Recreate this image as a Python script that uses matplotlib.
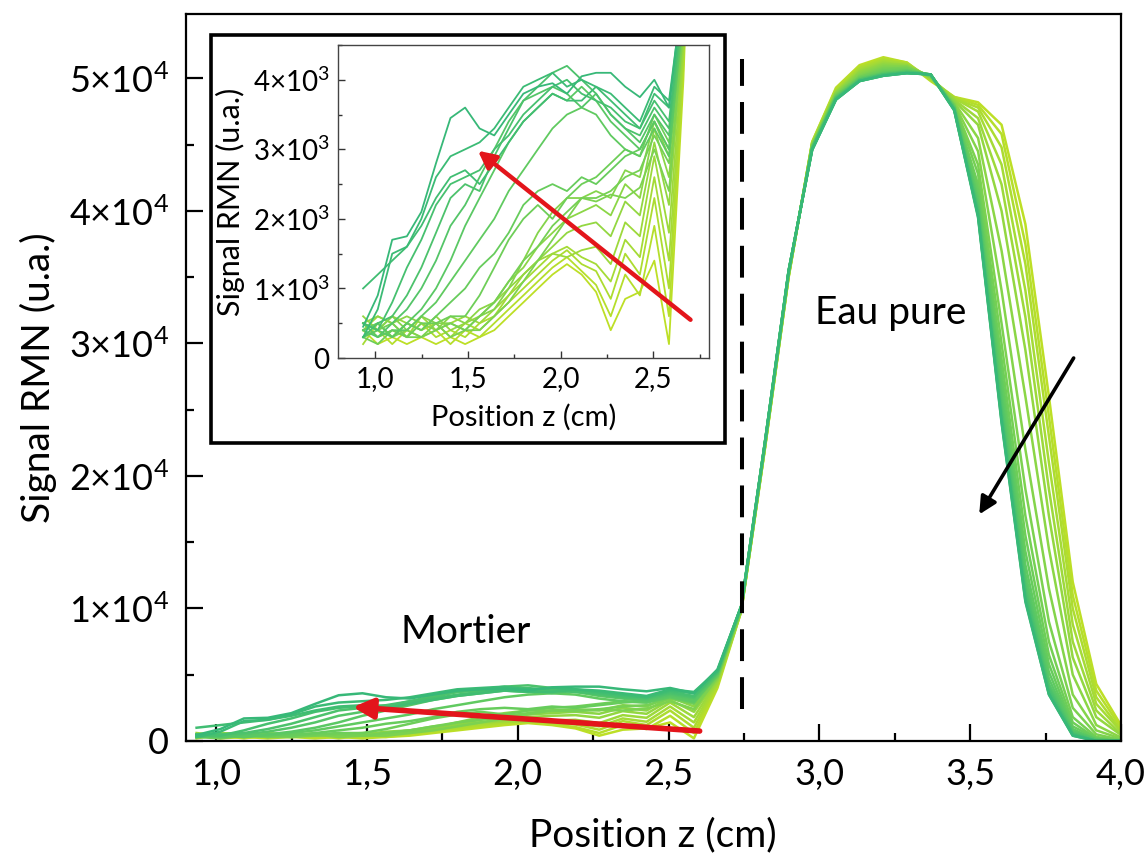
import numpy as np
import matplotlib
matplotlib.use("Agg")
import matplotlib.pyplot as plt
from matplotlib.ticker import MultipleLocator, FuncFormatter
from matplotlib.patches import Rectangle

plt.rcParams['font.family'] = ['Lato', 'DejaVu Sans']
plt.rcParams['mathtext.default'] = 'regular'

# ---------------- data ----------------
position_z = [0.935, 1.014, 1.092, 1.171, 1.249, 1.328, 1.406, 1.485, 1.563, 1.642,
              1.720, 1.799, 1.877, 1.956, 2.034, 2.113, 2.191, 2.270, 2.348, 2.427,
              2.505, 2.584, 2.662, 2.741, 2.819, 2.898, 2.976, 3.055, 3.133, 3.212,
              3.290, 3.369, 3.447, 3.526, 3.604, 3.683, 3.761, 3.840, 3.918, 3.997]

# NMR signal profiles, in units of 10^3 u.a., from earliest (t01) to latest (t20)
signal_t01 = [0.4, 0.2, 0.3, 0.2, 0.3, 0.2, 0.3, 0.2, 0.3, 0.4, 0.6, 0.8, 1.0, 1.2, 1.35, 1.2, 0.95, 0.4, 0.85, 0.95, 1.4, 0.2, 4.0,
              9.8, 22.0, 35.0, 45.2, 49.3, 51.0, 51.6, 51.2, 49.8, 48.6, 48.2, 46.5, 39.0, 26.0, 12.0, 4.3, 1.3]
signal_t02 = [0.3, 0.4, 0.2, 0.4, 0.3, 0.4, 0.2, 0.4, 0.3, 0.5, 0.7, 0.9, 1.1, 1.3, 1.45, 1.25, 1.05, 0.6, 1.2, 0.9, 1.9, 0.6, 4.2,
              9.8, 22.0, 35.0, 45.2, 49.2, 50.9, 51.5, 51.2, 49.9, 48.6, 48.0, 45.8, 37.5, 24.5, 11.0, 3.8, 1.1]
signal_t03 = [0.5, 0.3, 0.4, 0.3, 0.5, 0.3, 0.4, 0.3, 0.5, 0.6, 0.8, 1.0, 1.2, 1.4, 1.55, 1.35, 1.25, 0.85, 1.5, 1.2, 2.3, 1.0, 4.3,
              9.8, 22.1, 35.1, 45.1, 49.1, 50.8, 51.4, 51.1, 49.9, 48.5, 47.8, 44.8, 36.0, 23.0, 10.0, 3.3, 0.9]
signal_t04 = [0.2, 0.5, 0.3, 0.5, 0.4, 0.5, 0.3, 0.5, 0.4, 0.6, 0.9, 1.1, 1.3, 1.5, 1.6, 1.45, 1.35, 1.1, 1.7, 1.45, 2.6, 1.4, 4.4,
              9.9, 22.1, 35.1, 45.1, 49.0, 50.7, 51.3, 51.1, 50.0, 48.5, 47.5, 43.5, 34.0, 21.0, 8.8, 2.8, 0.8]
signal_t05 = [0.4, 0.6, 0.5, 0.3, 0.6, 0.4, 0.5, 0.6, 0.5, 0.7, 0.9, 1.2, 1.4, 1.5, 1.45, 1.55, 1.6, 1.35, 1.95, 1.75, 2.9, 1.8, 4.5,
              9.9, 22.1, 35.1, 45.0, 49.0, 50.6, 51.2, 51.0, 50.0, 48.4, 47.0, 42.0, 32.0, 19.0, 7.5, 2.3, 0.6]
signal_t06 = [0.6, 0.4, 0.6, 0.5, 0.4, 0.6, 0.4, 0.5, 0.6, 0.8, 1.0, 1.2, 1.4, 1.6, 1.8, 1.9, 1.95, 1.75, 2.25, 2.05, 3.1, 2.2, 4.6,
              9.9, 22.2, 35.2, 45.0, 48.9, 50.5, 51.1, 51.0, 50.1, 48.3, 46.5, 40.0, 29.5, 17.0, 6.3, 1.8, 0.5]
signal_t07 = [0.5, 0.6, 0.5, 0.6, 0.5, 0.4, 0.6, 0.5, 0.7, 0.8, 1.1, 1.3, 1.6, 1.8, 2.0, 2.1, 2.2, 2.05, 2.5, 2.3, 3.3, 2.6, 4.7,
              9.9, 22.2, 35.2, 45.0, 48.9, 50.4, 51.0, 50.9, 50.1, 48.2, 45.5, 37.0, 26.0, 14.5, 5.0, 1.2, 0.3]
signal_t08 = [0.5, 0.4, 0.6, 0.4, 0.6, 0.5, 0.5, 0.4, 0.6, 0.7, 1.0, 1.4, 1.8, 2.1, 2.3, 2.3, 2.4, 2.3, 2.7, 2.6, 3.4, 2.9, 4.8,
              10.0, 22.2, 35.2, 44.9, 48.8, 50.3, 50.9, 50.9, 50.1, 48.1, 44.5, 34.0, 22.0, 11.5, 3.5, 0.8, 0.2]
signal_t09 = [0.4, 0.5, 0.3, 0.4, 0.3, 0.5, 0.3, 0.4, 0.4, 0.6, 0.8, 1.1, 1.4, 1.7, 2.0, 2.3, 2.25, 2.35, 2.3, 2.45, 3.0, 2.4, 4.8,
              10.0, 22.3, 35.3, 44.9, 48.8, 50.2, 50.8, 50.8, 50.2, 48.0, 43.5, 31.5, 19.0, 9.0, 2.5, 0.5, 0.1]
signal_t10 = [0.5, 0.4, 0.5, 0.3, 0.3, 0.4, 0.5, 0.4, 0.6, 0.8, 1.1, 1.4, 1.6, 1.9, 2.1, 2.3, 2.3, 2.4, 2.6, 2.7, 3.2, 2.8, 4.9,
              10.0, 22.3, 35.3, 44.9, 48.7, 50.1, 50.7, 50.8, 50.2, 48.0, 42.8, 30.0, 17.0, 7.5, 1.8, 0.3, 0.1]
signal_t11 = [0.3, 0.2, 0.4, 0.3, 0.5, 0.5, 0.6, 0.6, 0.9, 1.3, 1.7, 2.0, 2.2, 2.0, 2.3, 2.5, 2.6, 2.8, 3.0, 2.9, 3.5, 3.1, 4.9,
              10.0, 22.3, 35.3, 44.8, 48.7, 50.1, 50.6, 50.7, 50.2, 47.9, 42.0, 28.8, 15.5, 6.5, 1.4, 0.2, 0.0]
signal_t12 = [0.4, 0.5, 0.3, 0.5, 0.4, 0.6, 0.8, 1.0, 1.3, 1.5, 1.8, 2.2, 2.4, 2.5, 2.4, 2.6, 2.5, 2.7, 2.9, 3.0, 3.4, 3.0, 5.0,
              10.1, 22.4, 35.4, 44.8, 48.6, 50.0, 50.5, 50.6, 50.2, 47.9, 41.5, 27.8, 14.3, 5.8, 1.1, 0.2, 0.0]
signal_t13 = [0.5, 0.3, 0.4, 0.4, 0.6, 0.8, 1.1, 1.4, 1.7, 2.0, 2.4, 2.7, 3.0, 3.3, 3.5, 3.6, 3.5, 3.2, 3.0, 2.9, 3.3, 2.9, 5.0,
              10.1, 22.4, 35.4, 44.8, 48.6, 50.0, 50.4, 50.6, 50.3, 47.8, 41.0, 27.0, 13.3, 5.2, 0.9, 0.1, 0.0]
signal_t14 = [0.3, 0.4, 0.3, 0.5, 0.7, 1.0, 1.4, 1.9, 2.3, 2.7, 3.1, 3.4, 3.6, 3.8, 3.7, 3.9, 3.7, 3.4, 3.2, 3.0, 3.4, 3.0, 5.1,
              10.1, 22.4, 35.4, 44.7, 48.6, 49.9, 50.4, 50.5, 50.3, 47.8, 40.7, 26.2, 12.6, 4.7, 0.8, 0.1, 0.0]
signal_t15 = [0.4, 0.3, 0.5, 0.7, 1.0, 1.4, 1.9, 2.2, 2.6, 3.0, 3.4, 3.7, 3.8, 3.9, 3.8, 3.6, 3.8, 3.5, 3.3, 3.1, 3.5, 3.2, 5.1,
              10.1, 22.4, 35.4, 44.7, 48.5, 49.9, 50.3, 50.5, 50.3, 47.7, 40.4, 25.6, 12.0, 4.3, 0.7, 0.1, 0.0]
signal_t16 = [0.3, 0.5, 0.6, 0.9, 1.3, 1.8, 2.3, 2.5, 2.4, 2.9, 3.3, 3.7, 3.9, 4.1, 4.2, 4.0, 3.8, 3.5, 3.3, 3.2, 3.6, 3.3, 5.2,
              10.2, 22.5, 35.5, 44.7, 48.5, 49.9, 50.3, 50.5, 50.3, 47.7, 40.1, 25.0, 11.5, 4.0, 0.6, 0.0, 0.0]
signal_t17 = [0.5, 0.4, 0.8, 1.3, 1.7, 2.2, 2.5, 2.6, 2.7, 3.0, 3.2, 3.5, 3.7, 3.9, 4.0, 3.8, 3.7, 3.6, 3.4, 3.3, 3.7, 3.4, 5.2,
              10.2, 22.5, 35.5, 44.7, 48.5, 49.8, 50.3, 50.4, 50.3, 47.7, 39.9, 24.6, 11.1, 3.8, 0.5, 0.0, 0.0]
signal_t18 = [1.0, 1.2, 1.4, 1.6, 1.9, 2.3, 2.6, 2.7, 2.5, 2.8, 3.1, 3.4, 3.6, 3.8, 3.7, 3.7, 3.9, 3.7, 3.5, 3.3, 3.8, 3.6, 5.3,
              10.2, 22.5, 35.5, 44.6, 48.4, 49.8, 50.2, 50.4, 50.3, 47.6, 39.7, 24.3, 10.8, 3.6, 0.5, 0.0, 0.0]
signal_t19 = [0.3, 0.7, 1.5, 1.6, 2.0, 2.6, 2.9, 3.0, 3.1, 3.3, 3.6, 3.9, 4.0, 4.1, 3.9, 4.0, 3.9, 3.8, 3.6, 3.4, 3.9, 3.7, 5.3,
              10.2, 22.5, 35.5, 44.6, 48.4, 49.8, 50.2, 50.4, 50.3, 47.6, 39.6, 24.1, 10.6, 3.5, 0.4, 0.0, 0.0]
signal_t20 = [0.45, 0.9, 1.7, 1.75, 2.1, 2.8, 3.45, 3.6, 3.3, 3.2, 3.5, 3.8, 3.9, 3.95, 3.8, 4.05, 4.1, 4.1, 3.9, 3.75, 4.0, 3.6, 5.4,
              10.2, 22.5, 35.5, 44.6, 48.4, 49.8, 50.2, 50.4, 50.3, 47.6, 39.5, 24.0, 10.5, 3.5, 0.4, 0.0, 0.0]

signals = [signal_t01, signal_t02, signal_t03, signal_t04, signal_t05,
           signal_t06, signal_t07, signal_t08, signal_t09, signal_t10,
           signal_t11, signal_t12, signal_t13, signal_t14, signal_t15,
           signal_t16, signal_t17, signal_t18, signal_t19, signal_t20]
signal_unit = 1e3

main_xticks = [1.0, 1.5, 2.0, 2.5, 3.0, 3.5, 4.0]
main_yticks = [0, 1e4, 2e4, 3e4, 4e4, 5e4]
inset_xticks = [1.0, 1.5, 2.0, 2.5]
inset_yticks = [0, 1e3, 2e3, 3e3, 4e3]
interface_z = 2.745

# ---------------- figure ----------------
fig = plt.figure(figsize=(11.44, 8.6), dpi=100)
ax = fig.add_axes([0.1626, 0.1384, 0.8173, 0.8453])

colors = plt.cm.viridis(np.linspace(0.9, 0.67, len(signals)))
z = np.array(position_z)
for sig, c in zip(signals, colors):
    ax.plot(z, np.array(sig) * signal_unit, color=c, lw=1.8, zorder=2)

ax.set_xlim(0.9, 4.0)
ax.set_ylim(0, 5.486e4)


def fmt_comma(v, pos):
    return f"{v:.1f}".replace('.', ',')


def fmt_pow(exp):
    def f(v, pos):
        if abs(v) < 1e-9:
            return "0"
        return f"{int(round(v / 10**exp))}×10$^{{{exp}}}$"
    return f


ax.set_xticks(main_xticks)
ax.set_yticks(main_yticks)
ax.xaxis.set_minor_locator(MultipleLocator(0.25))
ax.yaxis.set_minor_locator(MultipleLocator(5e3))
ax.xaxis.set_major_formatter(FuncFormatter(fmt_comma))
ax.yaxis.set_major_formatter(FuncFormatter(fmt_pow(4)))
ax.tick_params(which='major', direction='in', length=12, width=1.6, labelsize=26, pad=12)
ax.tick_params(which='minor', direction='in', length=6, width=1.6)
for s in ax.spines.values():
    s.set_linewidth(1.6)

ax.set_xlabel("Position z (cm)", fontsize=28)
ax.xaxis.set_label_coords(0.499, -0.105)
ax.set_ylabel("Signal RMN (u.a.)", fontsize=28)
ax.yaxis.set_label_coords(-0.138, 0.5)

# interface dashed line
ax.plot([interface_z, interface_z], [2.4e3, 5.15e4], color='black', lw=2.9,
        ls=(0, (7.9, 4.0)), zorder=3)

# annotations
ax.text(1.827, 8.2e3, "Mortier", fontsize=28, ha='center', va='center')
ax.text(3.235, 3.23e4, "Eau pure", fontsize=28, ha='center', va='center')
ax.annotate('', xy=(1.453, 2.56e3), xytext=(2.603, 0.75e3),
            arrowprops=dict(arrowstyle='-|>', color='#e3151b', lw=4,
                            mutation_scale=30, shrinkA=0, shrinkB=0), zorder=5)
ax.annotate('', xy=(3.53, 1.71e4), xytext=(3.843, 2.89e4),
            arrowprops=dict(arrowstyle='-|>', color='black', lw=2.6,
                            mutation_scale=26, shrinkA=0, shrinkB=0), zorder=5)

# inset frame
frame = Rectangle((0.1844, 0.4849), 0.4493, 0.4744, transform=fig.transFigure,
                  facecolor='white', edgecolor='black', lw=2.6, zorder=3)
fig.add_artist(frame)

axin = fig.add_axes([0.2955, 0.5837, 0.3243, 0.3640])
axin.set_zorder(4)
for sig, c in zip(signals, colors):
    axin.plot(z, np.array(sig) * signal_unit, color=c, lw=1.3, zorder=2)
axin.set_xlim(0.8, 2.8)
axin.set_ylim(0, 4500)
axin.set_xticks(inset_xticks)
axin.set_yticks(inset_yticks)
axin.xaxis.set_minor_locator(MultipleLocator(0.25))
axin.yaxis.set_minor_locator(MultipleLocator(500))
axin.xaxis.set_major_formatter(FuncFormatter(fmt_comma))
axin.yaxis.set_major_formatter(FuncFormatter(fmt_pow(3)))
axin.tick_params(which='major', direction='in', length=5, width=1.0, labelsize=20, pad=6, color='#333333')
axin.tick_params(which='minor', direction='in', length=3, width=1.0, color='#333333')
for s in axin.spines.values():
    s.set_linewidth(1.0)
    s.set_color('#444444')
axin.set_xlabel("Position z (cm)", fontsize=21)
axin.xaxis.set_label_coords(0.5, -0.145)
axin.set_ylabel("Signal RMN (u.a.)", fontsize=22)
axin.yaxis.set_label_coords(-0.25, 0.5)
axin.annotate('', xy=(1.554, 2.98e3), xytext=(2.70, 0.55e3),
              arrowprops=dict(arrowstyle='-|>', color='#e3151b', lw=3.2,
                              mutation_scale=26, shrinkA=0, shrinkB=0), zorder=5)

fig.savefig("out.png", dpi=100)
